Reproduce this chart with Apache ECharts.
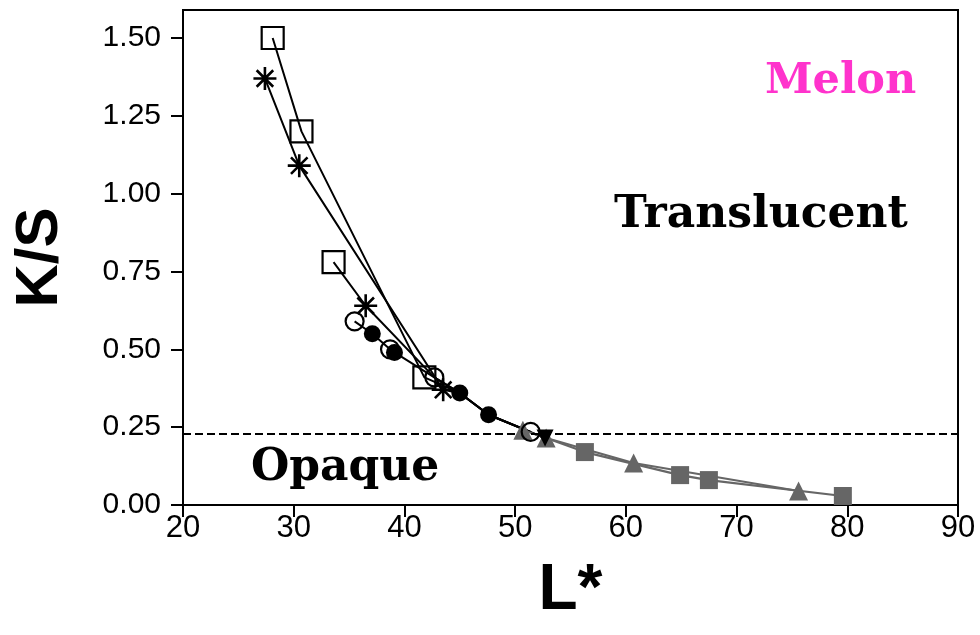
<!DOCTYPE html>
<html>
<head>
<meta charset="utf-8">
<script src="https://cdn.jsdelivr.net/npm/echarts@6/dist/echarts.min.js"></script>
<style>
html,body{margin:0;padding:0;background:#fff;}
#chart{width:980px;height:635px;}
</style>
</head>
<body>
<div id="chart"></div>
<script>
// ---- data (L*, K/S) ----
const xTicks = [20, 30, 40, 50, 60, 70, 80, 90];
const yTicks = [0.00, 0.25, 0.50, 0.75, 1.00, 1.25, 1.50];
const opaqueLimit = 0.23;

const openSquares   = [[28.1, 1.50], [30.7, 1.20], [33.6, 0.78], [41.8, 0.41]];
const stars         = [[27.4, 1.37], [30.5, 1.09], [36.5, 0.64], [43.5, 0.37]];
const openCircles   = [[35.5, 0.59], [38.7, 0.50], [42.7, 0.41], [51.4, 0.235]];
const filledCircles = [[37.1, 0.55], [39.1, 0.49], [45.0, 0.36], [47.6, 0.29]];
const downTriangles = [[52.7, 0.215]];
const grayTriangles = [[50.7, 0.24], [52.8, 0.215], [60.7, 0.135], [75.6, 0.045]];
const graySquares   = [[56.3, 0.17], [64.9, 0.096], [67.5, 0.08], [79.6, 0.029]];

const curveA = [[28.1, 1.50], [30.7, 1.20], [41.8, 0.41], [45.0, 0.36], [47.6, 0.29], [51.4, 0.235]];
const curveB = [[27.4, 1.37], [30.5, 1.09], [43.5, 0.37], [45.0, 0.36], [47.6, 0.29], [52.7, 0.215]];
const curveC = [[33.6, 0.78], [36.5, 0.64], [42.7, 0.41], [45.0, 0.36], [47.6, 0.29], [52.7, 0.215]];
const curveD = [[35.5, 0.59], [37.1, 0.55], [38.7, 0.50], [39.1, 0.49], [42.7, 0.41], [45.0, 0.36], [47.6, 0.29], [51.4, 0.235]];
const curveGrayTri = [[50.7, 0.24], [52.8, 0.215], [60.7, 0.135], [75.6, 0.045]];
const curveGraySq  = [[52.8, 0.215], [56.3, 0.17], [64.9, 0.096], [67.5, 0.08], [79.6, 0.029]];

const labels = { region1: 'Translucent', region2: 'Opaque', fruit: 'Melon', xName: 'L*', yName: 'K/S' };

// ---- chart ----
const chart = echarts.init(document.getElementById('chart'), null, { renderer: 'canvas' });
const GRAY = '#666666';
const asterisk = 'path://M0,-10L0,10M-10,0L10,0M-7.2,-7.2L7.2,7.2M-7.2,7.2L7.2,-7.2';

function lineSeries(data, color, width) {
  return { type: 'line', data: data, symbol: 'none', smooth: false, z: 2,
    lineStyle: { color: color, width: width }, silent: true };
}
function markerSeries(name, data, symbol, size, fill, stroke, bw, extra) {
  return Object.assign({ type: 'scatter', name: name, data: data, symbol: symbol, symbolSize: size, z: 5,
    itemStyle: { color: fill, borderColor: stroke, borderWidth: bw, opacity: 1 } }, extra || {});
}

chart.setOption({
  animation: false,
  backgroundColor: '#fff',
  grid: { left: 183, right: 22, top: 10, bottom: 130, show: true, borderColor: '#000', borderWidth: 2, backgroundColor: 'transparent' },
  xAxis: {
    type: 'value', min: xTicks[0], max: xTicks[xTicks.length - 1], interval: 10,
    name: labels.xName, nameLocation: 'middle', nameGap: 54,
    nameTextStyle: { fontFamily: 'Liberation Sans, Arial, sans-serif', fontWeight: 'bold', fontSize: 64, color: '#000' },
    axisLine: { show: true, lineStyle: { color: '#000', width: 2 } },
    axisTick: { show: true, inside: false, length: 12, lineStyle: { color: '#000', width: 2 } },
    axisLabel: { show: true, margin: 8, fontFamily: 'Liberation Sans, Arial, sans-serif', fontSize: 31, color: '#000' },
    splitLine: { show: false }
  },
  yAxis: {
    type: 'value', min: 0, max: 1.59, interval: 0.25,
    name: labels.yName, nameLocation: 'middle', nameGap: 113, nameRotate: 90,
    nameTextStyle: { fontFamily: 'Liberation Sans, Arial, sans-serif', fontWeight: 'bold', fontSize: 60, color: '#000' },
    axisLine: { show: true, lineStyle: { color: '#000', width: 2 } },
    axisTick: { show: true, inside: false, length: 12, customValues: yTicks, lineStyle: { color: '#000', width: 2 } },
    axisLabel: { show: true, margin: 22, customValues: yTicks, fontFamily: 'Liberation Sans, Arial, sans-serif', fontSize: 30, color: '#000',
      formatter: function (v) { return v.toFixed(2); } },
    splitLine: { show: false }
  },
  series: [
    Object.assign(lineSeries(curveA, '#000', 2), {
      markLine: { silent: true, symbol: 'none', label: { show: false },
        lineStyle: { color: '#000', type: [8, 4], width: 2 },
        data: [{ yAxis: opaqueLimit }] }
    }),
    lineSeries(curveB, '#000', 2),
    lineSeries(curveC, '#000', 2),
    lineSeries(curveD, '#000', 2),
    lineSeries(curveGrayTri, GRAY, 2.2),
    lineSeries(curveGraySq, GRAY, 2.2),
    markerSeries('gray squares', graySquares, 'rect', 18, GRAY, GRAY, 0),
    markerSeries('gray triangles', grayTriangles, 'triangle', 19, GRAY, GRAY, 0),
    markerSeries('open squares', openSquares, 'rect', 22, 'transparent', '#000', 2.2),
    markerSeries('stars', stars, asterisk, 23, 'transparent', '#000', 2.6, { symbolKeepAspect: true }),
    markerSeries('open circles', openCircles, 'circle', 18, 'transparent', '#000', 2.2),
    markerSeries('filled circles', filledCircles, 'circle', 17, '#000', '#000', 0),
    markerSeries('down triangles', downTriangles, 'triangle', 17, '#000', '#000', 0, { symbolRotate: 180 })
  ],
  graphic: [
    { type: 'text', left: 614, top: 194, z: 10, silent: true,
      style: { text: labels.region1, font: 'bold 44px "DejaVu Serif", serif', fill: '#000' } },
    { type: 'text', left: 251, top: 447, z: 10, silent: true,
      style: { text: labels.region2, font: 'bold 44px "DejaVu Serif", serif', fill: '#000' } },
    { type: 'text', left: 765, top: 60, z: 10, silent: true,
      style: { text: labels.fruit, font: 'bold 43px "DejaVu Serif", serif', fill: '#ff33cc',
        textShadowColor: '#b0b0b0', textShadowOffsetX: 2, textShadowOffsetY: 2, textShadowBlur: 0 } }
  ]
});
</script>
</body>
</html>
